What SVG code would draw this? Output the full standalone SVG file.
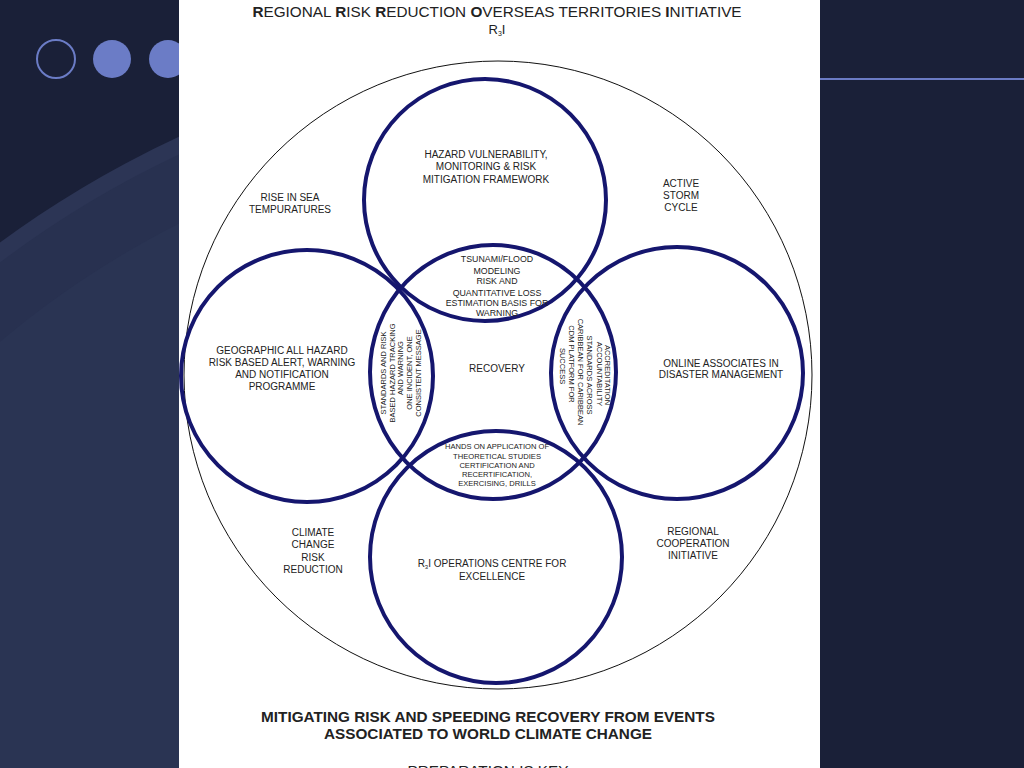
<svg xmlns="http://www.w3.org/2000/svg" width="1024" height="768" viewBox="0 0 1024 768">
<style>
.t{font-family:"Liberation Sans",Arial,sans-serif;fill:#222;text-anchor:middle}
.s10{font-size:10px}
.s9{font-size:8.8px}
.s7{font-size:7.5px}
.nv{fill:none;stroke:#15166e;stroke-width:4}
</style>
<defs>
<clipPath id="lc"><rect x="0" y="0" width="180" height="768"/></clipPath>
</defs>
<rect width="1024" height="768" fill="#1a2038"/>
<g clip-path="url(#lc)">
<circle cx="610" cy="1070" r="1028" fill="#2c3555"/>
<circle cx="610" cy="1070" r="1012" fill="#283150"/>
<circle cx="610" cy="1070" r="950" fill="#2a3453"/>
</g>
<circle cx="56" cy="59" r="19" fill="none" stroke="#6b7cc6" stroke-width="2"/>
<circle cx="112" cy="59" r="19" fill="#6b7cc6"/>
<circle cx="168" cy="59" r="19" fill="#6b7cc6"/>
<line x1="820" y1="79" x2="1024" y2="79" stroke="#6b7bc4" stroke-width="2"/>
<rect x="179" y="0" width="641" height="768" fill="#ffffff"/>
<g id="outer"><circle cx="498" cy="375" r="314" fill="none" stroke="#111" stroke-width="1"/></g>
<g id="connectors">
<circle id="c-top" class="nv" cx="485" cy="200" r="121"/>
<circle id="c-left" class="nv" cx="307" cy="376" r="126"/>
<circle id="c-right" class="nv" cx="677" cy="373" r="126"/>
<circle id="c-bottom" class="nv" cx="496" cy="557" r="126"/>
<ellipse id="c-center" class="nv" cx="493" cy="372" rx="123" ry="127"/>
</g>
<g id="title">
<text class="t" x="497" y="17" font-size="15.3"><tspan font-weight="bold">R</tspan>EGIONAL <tspan font-weight="bold">R</tspan>ISK <tspan font-weight="bold">R</tspan>EDUCTION <tspan font-weight="bold">O</tspan>VERSEAS TERRITORIES <tspan font-weight="bold">I</tspan>NITIATIVE</text>
<text class="t" x="497" y="34" font-size="13">R<tspan font-size="7" dy="2">3</tspan><tspan dy="-2">I</tspan></text>
</g>
<g id="n-top"><text class="t s10"><tspan x="486" y="158">HAZARD VULNERABILITY,</tspan><tspan x="486" y="170">MONITORING &amp; RISK</tspan><tspan x="486" y="183">MITIGATION FRAMEWORK</tspan></text></g>
<g id="n-sea"><text class="t s10"><tspan x="290" y="201">RISE IN SEA</tspan><tspan x="290" y="213">TEMPURATURES</tspan></text></g>
<g id="n-storm"><text class="t s10"><tspan x="681" y="187">ACTIVE</tspan><tspan x="681" y="199">STORM</tspan><tspan x="681" y="211">CYCLE</tspan></text></g>
<g id="n-lens-top"><text class="t s9"><tspan x="497" y="262">TSUNAMI/FLOOD</tspan><tspan x="497" y="273.5">MODELING</tspan><tspan x="497" y="284">RISK AND</tspan><tspan x="497" y="295.5">QUANTITATIVE LOSS</tspan><tspan x="497" y="305.5">ESTIMATION BASIS FOR</tspan><tspan x="497" y="315.5">WARNING</tspan></text></g>
<g id="n-left"><text class="t s10"><tspan x="282" y="354">GEOGRAPHIC ALL HAZARD</tspan><tspan x="282" y="366">RISK BASED ALERT, WARNING</tspan><tspan x="282" y="378">AND NOTIFICATION</tspan><tspan x="282" y="390">PROGRAMME</tspan></text></g>
<g id="n-lens-left"><text class="t s7" transform="translate(400,373) rotate(-90)"><tspan x="0" y="-14.3">STANDARDS AND RISK</tspan><tspan x="0" y="-5.3">BASED HAZARD TRACKING</tspan><tspan x="5" y="2.7">AND WARNING</tspan><tspan x="0" y="11.7">ONE INCIDENT, ONE</tspan><tspan x="0" y="20.7">CONSISTENT MESSAGE</tspan></text></g>
<g id="n-recovery"><text class="t s10" x="497" y="372">RECOVERY</text></g>
<g id="n-lens-right"><text class="t s7" transform="translate(585,372) rotate(90)"><tspan x="3" y="-20.3">ACCREDITATION</tspan><tspan x="2" y="-12.3">ACCOUNTABILITY</tspan><tspan x="3" y="-2.3">STANDARDS ACROSS</tspan><tspan x="0" y="6.7">CARIBBEAN FOR CARIBBEAN</tspan><tspan x="-8" y="15.7">CDM PLATFORM FOR</tspan><tspan x="-6" y="24.7">SUCCESS</tspan></text></g>
<g id="n-right"><text class="t s10"><tspan x="721" y="367">ONLINE ASSOCIATES IN</tspan><tspan x="721" y="378">DISASTER MANAGEMENT</tspan></text></g>
<g id="n-lens-bottom"><text class="t" font-size="7.6"><tspan x="497" y="449">HANDS ON APPLICATION OF</tspan><tspan x="497" y="459">THEORETICAL STUDIES</tspan><tspan x="497" y="467.5">CERTIFICATION AND</tspan><tspan x="497" y="476.5">RECERTIFICATION,</tspan><tspan x="497" y="486">EXERCISING, DRILLS</tspan></text></g>
<g id="n-climate"><text class="t s10"><tspan x="313" y="536">CLIMATE</tspan><tspan x="313" y="548">CHANGE</tspan><tspan x="313" y="561">RISK</tspan><tspan x="313" y="573">REDUCTION</tspan></text></g>
<g id="n-regional"><text class="t s10"><tspan x="693" y="535">REGIONAL</tspan><tspan x="693" y="547">COOPERATION</tspan><tspan x="693" y="559">INITIATIVE</tspan></text></g>
<g id="n-bottom"><text class="t s10"><tspan x="492" y="567">R<tspan font-size="6" dy="2">3</tspan><tspan dy="-2">I OPERATIONS CENTRE FOR</tspan></tspan><tspan x="492" y="580">EXCELLENCE</tspan></text></g>
<g id="footer">
<text class="t" x="488" y="722" font-size="15.3" font-weight="bold" fill="#111">MITIGATING RISK AND SPEEDING RECOVERY FROM EVENTS</text>
<text class="t" x="488" y="739" font-size="15.3" font-weight="bold" fill="#111">ASSOCIATED TO WORLD CLIMATE CHANGE</text>
<text class="t" x="488" y="776" font-size="15.3" fill="#111">PREPARATION IS KEY</text>
</g>
</svg>
